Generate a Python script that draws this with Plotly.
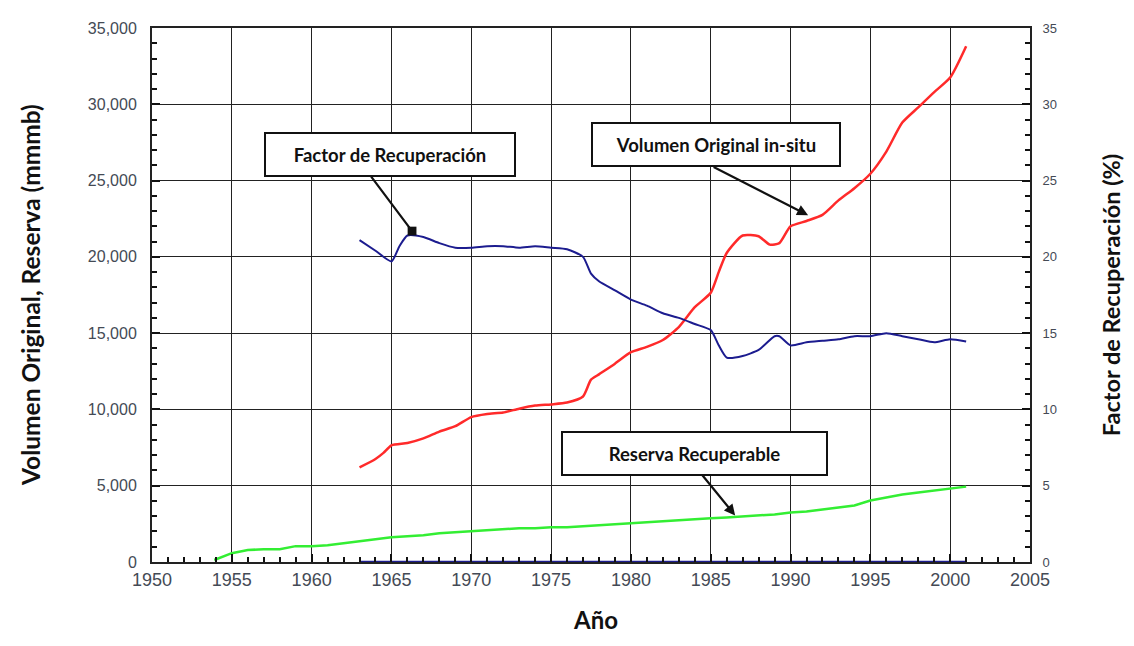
import plotly.graph_objects as go

# Volumen Original in-situ (mmmb), left axis
vol_years = [1963, 1964, 1964.5, 1965, 1966, 1967, 1968, 1969, 1970, 1971, 1972, 1973, 1974, 1975,
             1976, 1977, 1977.5, 1978, 1979, 1980, 1981, 1982, 1983, 1984, 1985, 1985.5, 1986, 1987,
             1988, 1988.7, 1989.3, 1990, 1991, 1992, 1993, 1994, 1995, 1996, 1997, 1998, 1999, 2000, 2001]
vol_values = [6200, 6750, 7150, 7650, 7800, 8100, 8550, 8900, 9500, 9700, 9800, 10050, 10250, 10330,
              10450, 10850, 11950, 12300, 13000, 13750, 14100, 14550, 15400, 16700, 17650, 19000, 20250, 21400,
              21350, 20800, 20900, 22000, 22350, 22750, 23700, 24500, 25450, 26900, 28800, 29800, 30800, 31750, 33800]

# Factor de Recuperación (%), right axis
fr_years = [1963, 1964, 1965, 1965.5, 1966, 1967, 1968, 1969, 1970, 1971, 1972, 1973, 1974, 1975,
            1976, 1977, 1977.5, 1978, 1979, 1980, 1981, 1982, 1983, 1984, 1985, 1985.5, 1986, 1987,
            1988, 1989, 1989.3, 1990, 1991, 1992, 1993, 1994, 1995, 1996, 1997, 1998, 1999, 2000, 2001]
fr_values = [21.1, 20.4, 19.7, 20.7, 21.4, 21.3, 20.9, 20.6, 20.6, 20.7, 20.7, 20.6, 20.7, 20.6,
             20.5, 20.0, 18.9, 18.4, 17.8, 17.2, 16.8, 16.3, 16.0, 15.6, 15.2, 14.2, 13.4, 13.5,
             13.9, 14.8, 14.8, 14.2, 14.4, 14.5, 14.6, 14.8, 14.8, 15.0, 14.8, 14.6, 14.4, 14.6, 14.45]

# baseline series drawn along zero (right axis)
base_years = [1963, 2001]
base_values = [0, 0]

# Reserva Recuperable (mmmb), left axis
res_years = [1953.9, 1955, 1956, 1957, 1958, 1959, 1960, 1961, 1962, 1963, 1964, 1965, 1966, 1967,
             1968, 1969, 1970, 1971, 1972, 1973, 1974, 1975, 1976, 1977, 1978, 1979, 1980, 1981,
             1982, 1983, 1984, 1985, 1986, 1987, 1988, 1989, 1990, 1991, 1992, 1993, 1994, 1995,
             1996, 1997, 1998, 1999, 2000, 2001]
res_values = [130, 580, 780, 840, 840, 1040, 1040, 1100, 1230, 1360, 1490, 1620, 1690, 1750,
              1880, 1950, 2010, 2080, 2140, 2210, 2210, 2270, 2270, 2340, 2400, 2470, 2530, 2600,
              2660, 2730, 2790, 2860, 2920, 2990, 3050, 3120, 3250, 3310, 3440, 3570, 3700, 4030,
              4220, 4420, 4550, 4680, 4810, 4940]

x_ticks = list(range(1950, 2006, 5))
y_ticks = list(range(0, 35001, 5000))
y2_ticks = list(range(0, 36, 5))

fig = go.Figure()
fig.add_trace(go.Scatter(x=res_years, y=res_values, mode="lines",
                         line=dict(color="#33ee33", width=2.5), yaxis="y"))
fig.add_trace(go.Scatter(x=vol_years, y=vol_values, mode="lines",
                         line=dict(color="#ff2a2a", width=2.5, shape="spline", smoothing=0.6), yaxis="y"))
fig.add_trace(go.Scatter(x=fr_years, y=fr_values, mode="lines",
                         line=dict(color="#1c1c8f", width=2, shape="spline", smoothing=0.6), yaxis="y2"))
fig.add_trace(go.Scatter(x=base_years, y=base_values, mode="lines",
                         line=dict(color="#1c1c8f", width=2.5), yaxis="y2", cliponaxis=False))

xtick_font = dict(family="Liberation Sans Narrow, Arial Narrow, Liberation Sans, Arial", size=18, color="#444a55")
ytick_font = dict(family="Liberation Sans, Arial", size=16, color="#444a55")
y2tick_font = dict(family="Liberation Sans, Arial", size=13, color="#444a55")
title_family = "Lato, Open Sans, Arial"

fig.update_layout(
    width=1118, height=630,
    margin=dict(l=144, r=96, t=15, b=76),
    paper_bgcolor="white", plot_bgcolor="white",
    showlegend=False,
    xaxis=dict(range=[1950, 2005], tickvals=x_ticks, ticks="inside", ticklen=8, tickwidth=1.5,
               tickcolor="#111", showline=True, linecolor="#222", linewidth=2, mirror=True,
               showgrid=True, gridcolor="#222", gridwidth=1.2, zeroline=False,
               minor=dict(dtick=1, ticks="inside", ticklen=5, tickcolor="#111", showgrid=False),
               tickfont=xtick_font),
    yaxis=dict(range=[0, 35000], tickvals=y_ticks, ticktext=[f"{v:,}" for v in y_ticks],
               ticks="inside", ticklen=8, tickwidth=1.5, tickcolor="#111",
               showline=True, linecolor="#222", linewidth=2,
               showgrid=True, gridcolor="#222", gridwidth=1.2, zeroline=False,
               minor=dict(dtick=1000, ticks="inside", ticklen=5, tickcolor="#111", showgrid=False),
               tickfont=ytick_font, ticklabelstandoff=10),
    yaxis2=dict(range=[0, 35], tickvals=y2_ticks, overlaying="y", side="right",
                ticks="inside", ticklen=8, tickwidth=1.5, tickcolor="#111",
                showline=True, linecolor="#222", linewidth=2, showgrid=False, zeroline=False,
                minor=dict(dtick=1, ticks="inside", ticklen=5, tickcolor="#111"),
                tickfont=y2tick_font, ticklabelstandoff=8),
)

# axis titles
fig.add_annotation(x=-0.139, y=0.5, xref="paper", yref="paper", text="<b>Volumen Original, Reserva (mmmb)</b>",
                   textangle=-90, showarrow=False, xanchor="center", yanchor="middle",
                   font=dict(family=title_family, size=24.5, color="#111"))
fig.add_annotation(x=1.0925, y=0.5, xref="paper", yref="paper", text="<b>Factor de Recuperación (%)</b>",
                   textangle=-90, showarrow=False, xanchor="center", yanchor="middle",
                   font=dict(family=title_family, size=23.5, color="#111"))
fig.add_annotation(x=0.505, y=-0.139, xref="paper", yref="paper", text="<b>Año</b>",
                   showarrow=False, xanchor="center", yanchor="bottom",
                   font=dict(family=title_family, size=24, color="#111"))

box_font = dict(family="Lato, Open Sans, Arial", size=18.5, color="#111")
boxes = [
    ("<b>Factor de Recuperación</b>", 0.271, 0.764, 244),
    ("<b>Volumen Original in-situ</b>", 0.642, 0.781, 242),
    ("<b>Reserva Recuperable</b>", 0.618, 0.204, 259),
]
# arrows (head at data point, tail offset in pixels)
arrows = [
    (1966.29, 21690, -42, -56, 7),
    (1991.1, 22730, -96, -49, 2),
    (1986.53, 3050, -35, -43, 2),
]
for hx, hy, ax, ay, head in arrows:
    fig.add_annotation(x=hx, y=hy, xref="x", yref="y", ax=ax, ay=ay, text="",
                       showarrow=True, arrowhead=head, arrowsize=1, arrowwidth=2.2, arrowcolor="#111")
for text, px, py, w in boxes:
    fig.add_annotation(x=px, y=py, xref="paper", yref="paper", text=text, showarrow=False,
                       font=box_font, bgcolor="white", bordercolor="#111", borderwidth=2,
                       width=w, height=37, borderpad=2, xanchor="center", yanchor="middle")

fig.write_html("out.html")
